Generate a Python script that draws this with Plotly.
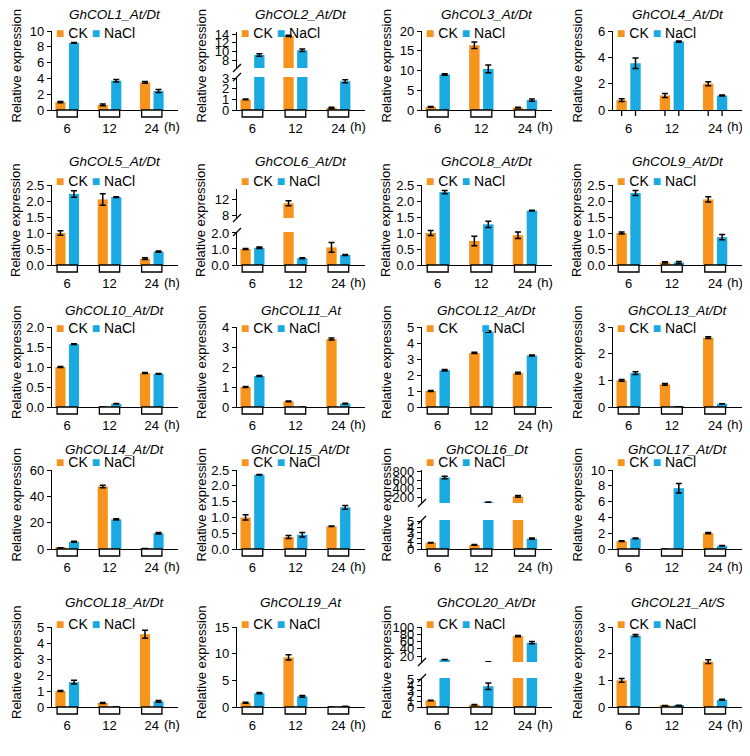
import plotly.graph_objects as go

W, H = 750, 756
PAD = 8  # the page body margin pushes the figure right and down
ORANGE = '#F7941D'
BLUE = '#1AA9E1'
FONT = 'Liberation Sans, Arial, sans-serif'

times = ['6', '12', '24']

gene_names = ['GhCOL1_At/Dt', 'GhCOL2_At/Dt', 'GhCOL3_At/Dt', 'GhCOL4_At/Dt',
              'GhCOL5_At/Dt', 'GhCOL6_At/Dt', 'GhCOL8_At/Dt', 'GhCOL9_At/Dt',
              'GhCOL10_At/Dt', 'GhCOL11_At', 'GhCOL12_At/Dt', 'GhCOL13_At/Dt',
              'GhCOL14_At/Dt', 'GhCOL15_At/Dt', 'GhCOL16_Dt', 'GhCOL17_At/Dt',
              'GhCOL18_At/Dt', 'GhCOL19_At', 'GhCOL20_At/Dt', 'GhCOL21_At/S']

ck_mean = [[1.0, 0.65, 3.5], [1.0, 13.6, 0.2], [0.8, 16.4, 0.6], [0.75, 1.1, 2.0],
           [1.0, 2.05, 0.2], [1.0, 11.0, 1.1], [1.0, 0.75, 0.93], [1.0, 0.08, 2.05],
           [1.0, 0.0, 0.85], [1.0, 0.28, 3.4], [1.0, 3.38, 2.12], [1.0, 0.85, 2.6],
           [0.8, 47.5, 0.3], [1.0, 0.38, 0.72], [1.15, 0.75, 230], [1.0, 0.0, 2.0],
           [1.0, 0.25, 4.55], [0.8, 9.3, 0.0], [1.2, 0.4, 75], [1.0, 0.05, 1.7]]
ck_sd = [[0.08, 0.12, 0.12], [0.03, 0.15, 0.05], [0.1, 0.8, 0.1], [0.1, 0.15, 0.15],
         [0.07, 0.18, 0.03], [0.03, 0.6, 0.3], [0.08, 0.15, 0.1], [0.03, 0.02, 0.08],
         [0.01, 0, 0.01], [0.03, 0.02, 0.05], [0.03, 0.04, 0.05], [0.03, 0.03, 0.03],
         [0.1, 1.0, 0.05], [0.08, 0.05, 0.01], [0.05, 0.05, 20], [0.05, 0, 0.08],
         [0.03, 0.03, 0.25], [0.1, 0.5, 0], [0.05, 0.05, 2], [0.07, 0.01, 0.07]]
nacl_mean = [[8.5, 3.7, 2.4], [9.2, 10.3, 2.7], [9.0, 10.4, 2.5], [3.55, 5.2, 1.1],
             [2.22, 2.12, 0.42], [1.08, 0.42, 0.62], [2.28, 1.27, 1.7], [2.25, 0.08, 0.87],
             [1.57, 0.08, 0.83], [1.55, 0.0, 0.17], [2.3, 4.72, 3.22], [1.27, 0.01, 0.12],
             [5.5, 22.5, 12.0], [2.35, 0.45, 1.32], [660, 100, 1.9], [1.35, 7.7, 0.4],
             [1.55, 0.0, 0.35], [2.6, 2.0, 0.1], [10.5, 3.8, 57], [2.68, 0.06, 0.27]]
nacl_sd = [[0.05, 0.15, 0.2], [0.3, 0.3, 0.15], [0.2, 1.0, 0.3], [0.4, 0.05, 0.03],
           [0.1, 0.01, 0.02], [0.05, 0.03, 0.03], [0.05, 0.1, 0.01], [0.08, 0.03, 0.08],
           [0.01, 0.005, 0.01], [0.02, 0, 0.02], [0.05, 0.05, 0.03], [0.05, 0, 0.005],
           [0.3, 0.5, 0.6], [0.01, 0.07, 0.06], [30, 5, 0.1], [0.05, 0.6, 0.03],
           [0.12, 0, 0.05], [0.1, 0.15, 0.02], [0.5, 0.6, 3], [0.04, 0.01, 0.02]]

y_ticks = [[0, 2, 4, 6, 8, 10], [0, 1, 2, 3], [0, 5, 10, 15, 20], [0, 2, 4, 6],
           [0, 0.5, 1, 1.5, 2, 2.5], [0, 1, 2], [0, 0.5, 1, 1.5, 2, 2.5], [0, 0.5, 1, 1.5, 2, 2.5],
           [0, 0.5, 1, 1.5, 2], [0, 1, 2, 3, 4], [0, 1, 2, 3, 4, 5], [0, 1, 2, 3],
           [0, 20, 40, 60], [0, 0.5, 1, 1.5, 2, 2.5], [0, 1, 2, 3, 4, 5], [0, 2, 4, 6, 8, 10],
           [0, 1, 2, 3, 4, 5], [0, 5, 10, 15], [0, 1, 2, 3, 4, 5], [0, 1, 2, 3]]
decimal_panels = [4, 5, 6, 7, 8, 13]

# broken axes: panel -> upper tick values
upper_ticks = {1: [8, 10, 12, 14], 5: [8, 12], 14: [200, 400, 600, 800], 18: [20, 40, 60, 80, 100]}
# panel -> (lower range top, upper range, lower top px, upper bottom px, upper top px)
breaks = {1: (3.1, [6.2, 14.5], 77, 68, 32),
          5: (2.06, [7.5, 14.4], 232, 218, 189),
          14: (5.3, [80, 830], 520, 503, 470),
          18: (5.3, [4, 100], 678, 662, 627)}

cols = [(52, 178), (237, 365), (422, 552), (613, 742)]
rows = [(31, 110), (185, 265), (327, 407), (470, 549), (627, 707)]
title_y = [14, 162, 310, 449, 602]
legend_y = [33, 181, 328, 462, 624]

FW, FH = W - PAD, H - PAD


def yp(p):
    return 1 - (p - PAD) / FH


def xp(p):
    return (p - PAD) / FW


def akey(n, a):
    return f'{a}axis' if n == 1 else f'{a}axis{n}'


def aref(n, a):
    return a if n == 1 else f'{a}{n}'


fig = go.Figure()
shapes = []
annots = []
layout = {}
n_ax = 0
line_k = dict(color='black', width=1.3)

for i, name in enumerate(gene_names):
    r, c = divmod(i, 4)
    left, right = cols[c]
    top, zero = rows[r]
    xdom = [xp(left), xp(right)]
    n_ax += 1
    n = n_ax
    yaxes = []
    if i in breaks:
        lo_top, up_rng, lo_px, ub_px, ut_px = breaks[i]
        yaxes.append((n, [yp(zero), yp(lo_px)], [0, lo_top], y_ticks[i]))
        n_ax += 1
        yaxes.append((n_ax, [yp(ub_px), yp(ut_px)], up_rng, upper_ticks[i]))
    else:
        yaxes.append((n, [yp(zero), yp(top)], [0, y_ticks[i][-1]], y_ticks[i]))

    for k, (m, dom, rng, tv) in enumerate(yaxes):
        layout[akey(m, 'x')] = dict(
            domain=xdom, range=[-0.36, 2.62], anchor=aref(m, 'y'),
            showline=(k == 0), linecolor='black', linewidth=1.3,
            tickvals=[0, 1, 2], ticktext=times, ticks='outside', ticklen=6,
            tickcolor='rgba(0,0,0,0)', showticklabels=(k == 0),
            tickfont=dict(size=13, color='black'), showgrid=False, zeroline=False,
            automargin=False, visible=(k == 0))
        if k > 0:
            layout[akey(m, 'x')]['matches'] = aref(n, 'x')
        layout[akey(m, 'y')] = dict(
            domain=dom, range=rng, anchor=aref(m, 'x'),
            showline=True, linecolor='black', linewidth=1.3,
            tickvals=tv, ticks='outside', ticklen=4, tickwidth=1.3, tickcolor='black',
            tickfont=dict(size=13, color='black'), showgrid=False, zeroline=False,
            automargin=False,
            tickformat='.1f' if (i in decimal_panels and k == 0) else None)
        for vals, errs, col, off in [(ck_mean[i], ck_sd[i], ORANGE, -0.28),
                                     (nacl_mean[i], nacl_sd[i], BLUE, 0.04)]:
            fig.add_trace(go.Bar(
                x=[0, 1, 2], y=vals, offset=off, width=0.24,
                marker=dict(color=col, line=dict(width=0)),
                error_y=dict(type='data', array=errs, color='black', thickness=1.5, width=3),
                xaxis=aref(m, 'x'), yaxis=aref(m, 'y'), showlegend=False))

    # boxes / ticks under the x axis
    for j in range(3):
        if i == 3:
            for off in (-0.16, 0.16):
                shapes.append(dict(type='line', xref=aref(n, 'x'), yref='paper',
                                   x0=j + off, x1=j + off, y0=yp(zero), y1=yp(zero + 6),
                                   line=line_k))
        else:
            shapes.append(dict(type='rect', xref=aref(n, 'x'), yref='paper',
                               x0=j - 0.24, x1=j + 0.24, y0=yp(zero), y1=yp(zero + 7),
                               line=line_k, fillcolor='white'))

    # break marks
    if i in breaks:
        _, _, lo_px, ub_px, _ = breaks[i]
        for e in (lo_px, ub_px):
            shapes.append(dict(type='line', xref='paper', yref='paper',
                               x0=xp(left - 4), y0=yp(e + 4), x1=xp(left + 4), y1=yp(e - 4),
                               line=line_k))

    annots.append(dict(text=f'<i>{name}</i>', x=(xdom[0] + xdom[1]) / 2, y=yp(title_y[r]),
                       xref='paper', yref='paper', showarrow=False,
                       font=dict(size=13.5, color='black'), xanchor='center', yanchor='middle'))
    gap = '\u00a0' * 6 if i == 10 else ' '
    annots.append(dict(text=f"<span style='color:{ORANGE}'>■</span> CK{gap}"
                            f"<span style='color:{BLUE}'>■</span> NaCl",
                       x=xp(left + 2), y=yp(legend_y[r]), xref='paper', yref='paper',
                       showarrow=False, font=dict(size=14, color='black'),
                       xanchor='left', yanchor='middle'))
    annots.append(dict(text='Relative expression', x=xp(left - 36), y=yp((top + zero) / 2 - 4),
                       xref='paper', yref='paper', showarrow=False, textangle=-90,
                       font=dict(size=13, color='black'), xanchor='center', yanchor='middle'))
    annots.append(dict(text='(h)', x=2, xref=aref(n, 'x'), xshift=10, y=yp(zero + 17),
                       yref='paper', showarrow=False, font=dict(size=13, color='black'),
                       xanchor='left', yanchor='middle'))

fig.update_layout(
    width=FW, height=FH, margin=dict(l=0, r=0, t=0, b=0),
    paper_bgcolor='white', plot_bgcolor='white', barmode='overlay',
    font=dict(family=FONT, color='black'), showlegend=False,
    shapes=shapes, annotations=annots, **layout)

fig.write_html('out.html')
